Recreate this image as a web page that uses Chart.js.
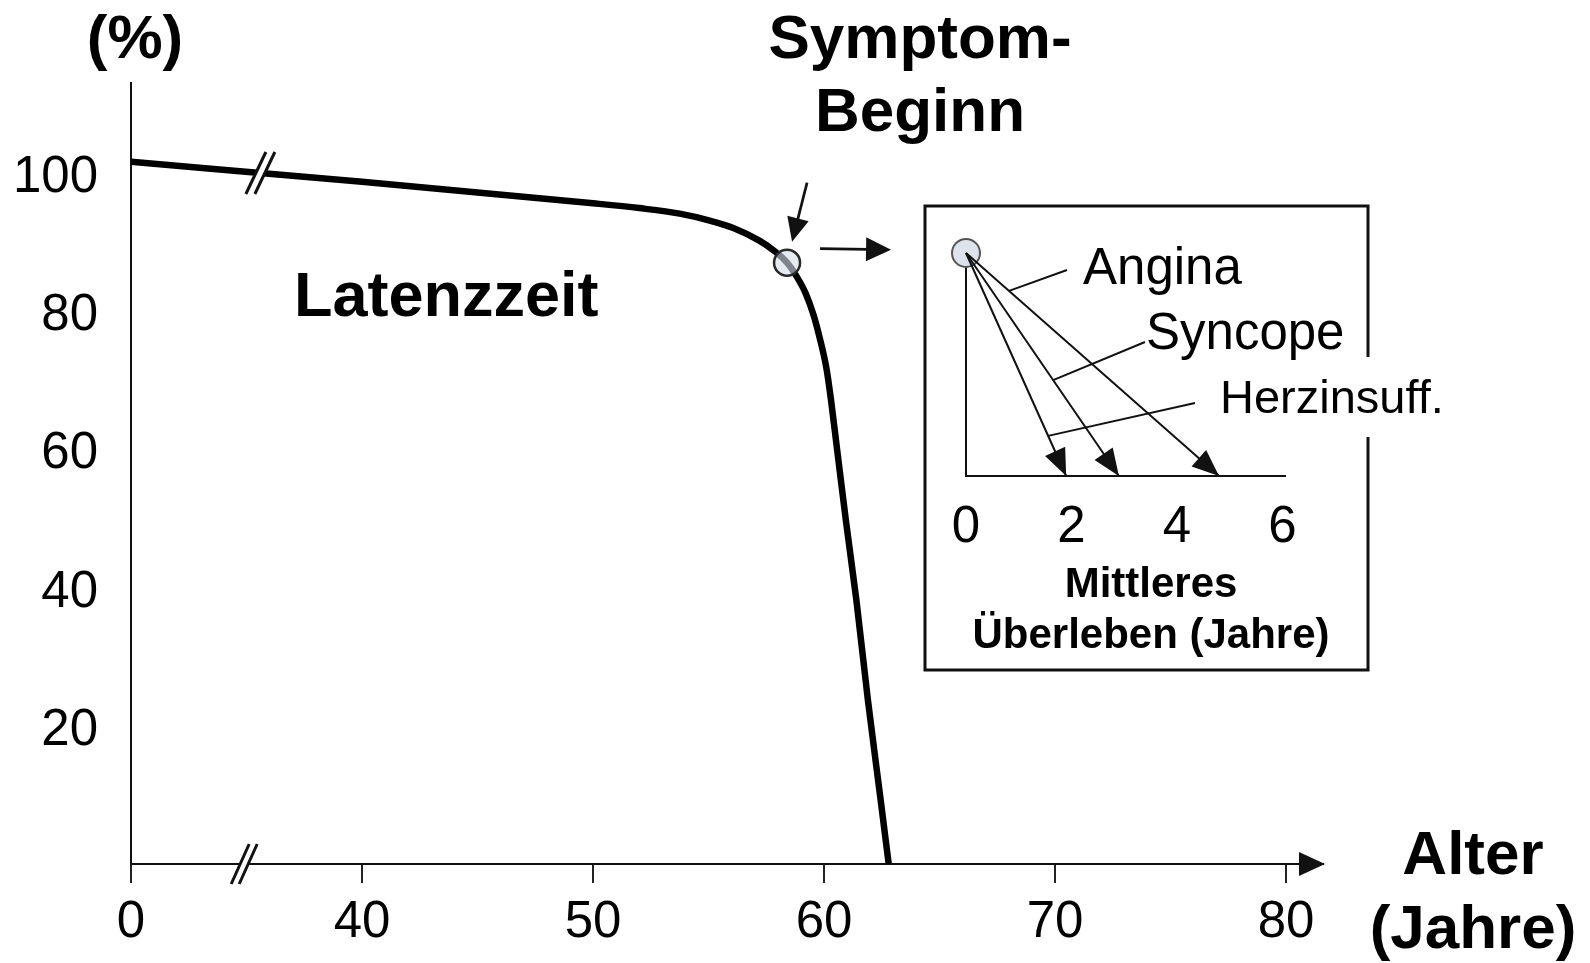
<!DOCTYPE html>
<html><head><meta charset="utf-8">
<script src="https://cdn.jsdelivr.net/npm/chart.js@4.4.1/dist/chart.umd.min.js"></script>
<style>
html,body{margin:0;padding:0;background:#fff;width:1590px;height:963px;overflow:hidden}
#main{position:absolute;left:0;top:0}
#inset{position:absolute;left:920px;top:200px}
</style></head><body>
<canvas id="main" width="1590" height="963"></canvas>
<canvas id="inset" width="540" height="480"></canvas>
<script>
// ---------- data ----------
const ages = [0, 40, 50, 52, 53.75, 55.05, 56.1, 57.2, 57.85, 58.4, 58.8, 59.2, 59.55, 59.8, 60.1, 60.3, 60.58, 60.95, 61.4, 61.9, 62.45, 62.8];
const survival = [101.6, 98.7, 95.6, 94.9, 94.1, 93.1, 92.0, 90.2, 88.7, 87.0, 85.1, 82.6, 79.4, 76.3, 71.8, 67.2, 59.6, 49.6, 38.2, 23.7, 9.3, 0];
const xTickAges = [0, 40, 50, 60, 70, 80];
const xTickLabels = ['0', '40', '50', '60', '70', '80'];
const yTicks = [20, 40, 60, 80, 100];
const onsetAge = [58.4];
const onsetValue = [87.0];
const insetLabels = ['Herzinsuff.', 'Syncope', 'Angina'];
const insetSurvival = [1.9, 2.9, 4.8];
const insetTicks = [0, 2, 4, 6];

// broken axis: ages 0..40 are squeezed into one 10-year slot
const pos = a => a < 40 ? 30 + a * 10 / 40 : a;

const FONT = '"Liberation Sans", Arial, Helvetica, sans-serif';
const INK = '#111';

function arrowHead(ctx, x0, y0, x1, y1, len, half) {
  const ang = Math.atan2(y1 - y0, x1 - x0);
  ctx.save();
  ctx.translate(x1, y1);
  ctx.rotate(ang);
  ctx.beginPath();
  ctx.moveTo(0, 0);
  ctx.lineTo(-len, -half);
  ctx.lineTo(-len, half);
  ctx.closePath();
  ctx.fill();
  ctx.restore();
}
function arrow(ctx, x0, y0, x1, y1, lw, len, half) {
  const ang = Math.atan2(y1 - y0, x1 - x0);
  ctx.lineWidth = lw;
  ctx.beginPath();
  ctx.moveTo(x0, y0);
  ctx.lineTo(x1 - Math.cos(ang) * (len - 2), y1 - Math.sin(ang) * (len - 2));
  ctx.stroke();
  arrowHead(ctx, x0, y0, x1, y1, len, half);
}
function breakMark(ctx, cx, cy, dx, dy, gap) {
  ctx.save();
  ctx.fillStyle = '#fff';
  ctx.beginPath();
  ctx.moveTo(cx - gap - dx, cy + dy);
  ctx.lineTo(cx - gap + dx, cy - dy);
  ctx.lineTo(cx + gap + dx, cy - dy);
  ctx.lineTo(cx + gap - dx, cy + dy);
  ctx.closePath();
  ctx.fill();
  ctx.strokeStyle = INK;
  ctx.lineWidth = 3;
  [-gap, gap].forEach(o => {
    ctx.beginPath();
    ctx.moveTo(cx + o - dx, cy + dy);
    ctx.lineTo(cx + o + dx, cy - dy);
    ctx.stroke();
  });
  ctx.restore();
}
function text(ctx, s, x, y, size, bold, align) {
  ctx.font = (bold ? 'bold ' : '') + size + 'px ' + FONT;
  ctx.textAlign = align || 'center';
  ctx.textBaseline = 'alphabetic';
  ctx.fillStyle = '#000';
  ctx.fillText(s, x, y);
}

// ---------- main chart ----------
const mainDecor = {
  id: 'mainDecor',
  afterDraw(chart) {
    const ctx = chart.ctx;
    const xs = chart.scales.x, ys = chart.scales.y;
    ctx.save();
    ctx.fillStyle = INK; ctx.strokeStyle = INK;
    // x-axis arrow head
    const axY = ys.getPixelForValue(0);
    arrowHead(ctx, xs.right - 30, axY, xs.right + 2, axY, 26, 12);
    // break marks (axis & curve)
    breakMark(ctx, xs.getPixelForValue(34.9), axY, 9, 20, 4);
    const cbPos = 35.6;
    const cbAge = (cbPos - 30) * 4;
    const cbVal = survival[0] + (survival[1] - survival[0]) * cbAge / 40;
    breakMark(ctx, xs.getPixelForValue(cbPos), ys.getPixelForValue(cbVal), 10, 21, 4.5);
    // arrows around symptom onset
    const cx = xs.getPixelForValue(pos(onsetAge[0])), cy = ys.getPixelForValue(onsetValue[0]);
    ctx.fillStyle = INK; ctx.strokeStyle = INK;
    arrow(ctx, cx + 20, cy - 80, cx + 5, cy - 21, 2.7, 24, 11);
    arrow(ctx, cx + 33, cy - 14, cx + 104, cy - 13, 2.7, 25, 12);
    // texts
    text(ctx, '(%)', 135, 58, 62, true);
    text(ctx, 'Symptom-', 920, 58, 62, true);
    text(ctx, 'Beginn', 920, 131, 62, true);
    text(ctx, 'Latenzzeit', 294, 316, 63, true, 'left');
    text(ctx, 'Alter', 1473, 874, 62, true);
    text(ctx, '(Jahre)', 1473, 948, 62, true);
    ctx.restore();
  }
};

new Chart(document.getElementById('main'), {
  data: {
    datasets: [
      {
        type: 'line',
        data: ages.map((a, i) => ({ x: pos(a), y: survival[i] })),
        borderColor: '#000', borderWidth: 6.5, pointRadius: 0,
        cubicInterpolationMode: 'monotone', fill: false, order: 2,
        borderCapStyle: 'butt', borderJoinStyle: 'round'
      },
      {
        type: 'scatter',
        data: onsetAge.map((a, i) => ({ x: pos(a), y: onsetValue[i] })),
        pointRadius: 13, pointBackgroundColor: 'rgba(214,222,232,0.6)',
        pointBorderColor: '#2a2a2a', pointBorderWidth: 2.5, order: 1
      }
    ]
  },
  options: {
    responsive: false, animation: false, devicePixelRatio: 1,
    layout: { padding: { left: 0, top: 83, right: 267, bottom: 0 } },
    plugins: { legend: { display: false }, tooltip: { enabled: false } },
    scales: {
      x: {
        type: 'linear', min: 30, max: 81.6,
        afterBuildTicks: s => { s.ticks = xTickAges.map(a => ({ value: pos(a) })); },
        afterFit: s => { s.height = 99; },
        grid: { drawOnChartArea: false, drawTicks: true, tickLength: 19, color: '#222', lineWidth: 2 },
        border: { color: INK, width: 2 },
        ticks: {
          autoSkip: false, maxRotation: 0, padding: 9, color: '#000',
          font: { family: FONT, size: 51 },
          callback: (v, i) => xTickLabels[i]
        }
      },
      y: {
        type: 'linear', min: 0, max: 113,
        afterBuildTicks: s => { s.ticks = yTicks.map(v => ({ value: v })); },
        afterFit: s => { s.width = 131; },
        grid: { drawOnChartArea: false, drawTicks: false },
        border: { color: INK, width: 2 },
        ticks: { padding: 33, labelOffset: 5, color: '#000', font: { family: FONT, size: 51 } }
      }
    }
  },
  plugins: [mainDecor]
});

// ---------- inset chart ----------
const leaderT = [0.82, 0.57, 0.17];
const leaderFrom = [[275, 203], [225, 142], [147, 70]];
const labelPos = [[300, 213, 47], [226, 149, 51], [163, 84, 51]];

const insetDecor = {
  id: 'insetDecor',
  beforeDraw(chart) {
    const ctx = chart.ctx;
    ctx.save();
    ctx.strokeStyle = INK; ctx.lineWidth = 3;
    ctx.strokeRect(5, 6, 443, 464);
    ctx.restore();
  },
  afterDraw(chart) {
    const ctx = chart.ctx;
    ctx.save();
    ctx.fillStyle = INK; ctx.strokeStyle = INK;
    insetSurvival.forEach((v, i) => {
      const pts = chart.getDatasetMeta(i).data;
      const p0 = pts[0], p1 = pts[1];
      arrowHead(ctx, p0.x, p0.y, p1.x, p1.y, 27, 11);
      const t = leaderT[i];
      const ax = p0.x + (p1.x - p0.x) * t, ay = p0.y + (p1.y - p0.y) * t;
      ctx.lineWidth = 2;
      ctx.beginPath();
      ctx.moveTo(leaderFrom[i][0], leaderFrom[i][1]);
      ctx.lineTo(ax, ay);
      ctx.stroke();
    });
    // gap in the box border behind the long label
    ctx.fillStyle = '#fff';
    ctx.fillRect(438, 157, 20, 80);
    insetLabels.forEach((s, i) => {
      text(ctx, s, labelPos[i][0], labelPos[i][1], labelPos[i][2], false, 'left');
    });
    text(ctx, 'Mittleres', 231, 397, 42, true);
    text(ctx, 'Überleben (Jahre)', 231, 448, 42, true);
    ctx.restore();
  }
};

new Chart(document.getElementById('inset'), {
  data: {
    datasets: insetSurvival.map(v => ({
      type: 'line',
      data: [{ x: 0, y: 1 }, { x: v, y: 0 }],
      borderColor: INK, borderWidth: 2, pointRadius: 0, fill: false, order: 1, clip: false
    })).concat([{
      type: 'scatter',
      data: [{ x: 0, y: 1 }],
      pointRadius: 14, pointBackgroundColor: '#dde3ea',
      pointBorderColor: '#555', pointBorderWidth: 2, order: 2, clip: false
    }])
  },
  options: {
    responsive: false, animation: false, devicePixelRatio: 1,
    layout: { padding: { left: 0, top: 53, right: 175, bottom: 0 } },
    plugins: { legend: { display: false }, tooltip: { enabled: false } },
    scales: {
      x: {
        type: 'linear', min: 0, max: 6.05,
        afterBuildTicks: s => { s.ticks = insetTicks.map(v => ({ value: v })); },
        afterFit: s => { s.height = 204; },
        grid: { drawOnChartArea: false, drawTicks: false },
        border: { color: INK, width: 2 },
        ticks: { padding: 21, color: '#000', font: { family: FONT, size: 51 }, autoSkip: false, maxRotation: 0 }
      },
      y: {
        type: 'linear', min: 0, max: 1,
        afterFit: s => { s.width = 46; },
        grid: { drawOnChartArea: false, drawTicks: false },
        border: { color: INK, width: 2 },
        ticks: { display: false }
      }
    }
  },
  plugins: [insetDecor]
});
</script>
</body></html>
